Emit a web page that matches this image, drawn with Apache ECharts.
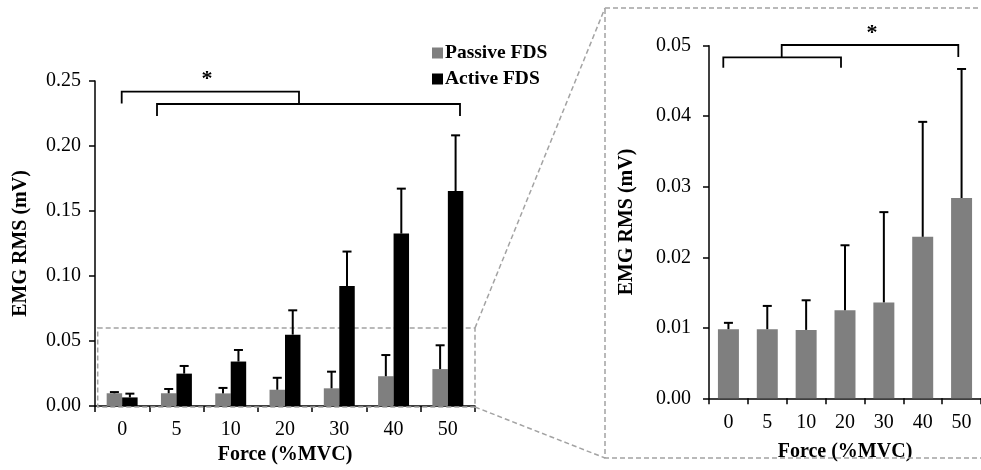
<!DOCTYPE html>
<html>
<head>
<meta charset="utf-8">
<script src="https://cdn.jsdelivr.net/npm/echarts@6/dist/echarts.min.js"></script>
<style>
html,body{margin:0;padding:0;background:#fff;}
#c{width:981px;height:470px;}
</style>
</head>
<body>
<div id="c"></div>
<script>
// ---- data ----
const categories = ['0', '5', '10', '20', '30', '40', '50'];
const passiveMean = [0.0098, 0.0098, 0.0097, 0.0125, 0.0136, 0.0229, 0.0284];
const passiveSD   = [0.0009, 0.0033, 0.0042, 0.0092, 0.0128, 0.0163, 0.0183];
const activeMean  = [0.0066, 0.0249, 0.0342, 0.0549, 0.0923, 0.1326, 0.1654];
const activeSD    = [0.0029, 0.0059, 0.0089, 0.0187, 0.0265, 0.0346, 0.0428];
const leftTicks = [0, 0.05, 0.10, 0.15, 0.20, 0.25];
const rightTicks = [0, 0.01, 0.02, 0.03, 0.04, 0.05];
const seriesNames = ['Passive FDS', 'Active FDS'];
const yTitle = 'EMG RMS (mV)';
const xTitle = 'Force (%MVC)';
const zoomValue = 0.06;

const FONT = 'Liberation Serif';
const GRAY = '#7f7f7f';
const BLACK = '#000000';
const DASH = '#a3a3a3';
const leftGap = 0.43, rightGap = 0.46;

const chart = echarts.init(document.getElementById('c'));

function errData(mean, sd) { return mean.map((m, i) => [i, m, sd[i]]); }

function errRender(gap, side) {
  return function (params, api) {
    const cat = api.value(0), m = api.value(1), s = api.value(2);
    const bandW = api.size([1, 0])[0];
    const nBars = side === 0 ? 1 : 2;
    const barW = bandW * (1 - gap) / nBars;
    const off = side === 0 ? 0 : side * barW / 2;
    const b = api.coord([cat, m]);
    const t = api.coord([cat, m + s]);
    const x = b[0] + off;
    const cap = 4.5;
    const st = { stroke: '#000', lineWidth: 2 };
    return {
      type: 'group',
      children: [
        { type: 'line', shape: { x1: x, y1: b[1], x2: x, y2: t[1] }, style: st },
        { type: 'line', shape: { x1: x - cap, y1: t[1], x2: x + cap, y2: t[1] }, style: st }
      ]
    };
  };
}

function fmt(v) { return v.toFixed(2); }

const axisLineStyle = { show: true, lineStyle: { color: '#000', width: 1.5 } };
const tickStyle = { show: true, length: 6, inside: false, lineStyle: { color: '#000', width: 1.5 } };
const tickFont = { fontFamily: FONT, fontSize: 20, color: '#000' };
const titleFont = { fontFamily: FONT, fontSize: 20, fontWeight: 'bold', color: '#000' };

const option = {
  animation: false,
  backgroundColor: '#fff',
  textStyle: { fontFamily: FONT },
  legend: {
    orient: 'vertical',
    left: 427, top: 38,
    itemWidth: 11, itemHeight: 11, itemGap: 6,
    icon: 'rect',
    data: seriesNames,
    textStyle: { fontFamily: FONT, fontSize: 19.5, fontWeight: 'bold', color: '#000', padding: [0, 0, 0, -3] }
  },
  grid: [
    { left: 95, top: 81, width: 380, height: 325, containLabel: false },
    { left: 709, top: 45.7, width: 272, height: 352.6, containLabel: false }
  ],
  xAxis: [
    {
      gridIndex: 0, type: 'category', data: categories,
      axisLine: axisLineStyle, axisTick: tickStyle,
      axisLabel: Object.assign({ margin: 14 }, tickFont),
      name: xTitle, nameLocation: 'middle', nameGap: 35,
      nameTextStyle: titleFont
    },
    {
      gridIndex: 1, type: 'category', data: categories,
      axisLine: axisLineStyle, axisTick: tickStyle,
      axisLabel: Object.assign({ margin: 14 }, tickFont),
      name: xTitle, nameLocation: 'middle', nameGap: 44,
      nameTextStyle: titleFont
    }
  ],
  yAxis: [
    {
      gridIndex: 0, type: 'value', min: leftTicks[0], max: leftTicks[leftTicks.length - 1],
      interval: leftTicks[1] - leftTicks[0],
      axisLine: axisLineStyle, axisTick: tickStyle, splitLine: { show: false },
      axisLabel: Object.assign({ margin: 14, formatter: fmt }, tickFont),
      name: yTitle, nameLocation: 'middle', nameGap: 64, nameRotate: 90,
      nameTextStyle: titleFont
    },
    {
      gridIndex: 1, type: 'value', min: rightTicks[0], max: rightTicks[rightTicks.length - 1],
      interval: rightTicks[1] - rightTicks[0],
      axisLine: axisLineStyle, axisTick: tickStyle, splitLine: { show: false },
      axisLabel: Object.assign({ margin: 18, formatter: fmt }, tickFont),
      name: yTitle, nameLocation: 'middle', nameGap: 72, nameRotate: 90,
      nameTextStyle: titleFont
    }
  ],
  series: [
    {
      name: seriesNames[0], type: 'bar', xAxisIndex: 0, yAxisIndex: 0,
      data: passiveMean, itemStyle: { color: GRAY },
      barGap: '0%', barCategoryGap: (leftGap * 100) + '%'
    },
    {
      name: seriesNames[1], type: 'bar', xAxisIndex: 0, yAxisIndex: 0,
      data: activeMean, itemStyle: { color: BLACK },
      barGap: '0%', barCategoryGap: (leftGap * 100) + '%'
    },
    {
      name: 'err-passive', type: 'custom', xAxisIndex: 0, yAxisIndex: 0,
      renderItem: errRender(leftGap, -1), data: errData(passiveMean, passiveSD), z: 5
    },
    {
      name: 'err-active', type: 'custom', xAxisIndex: 0, yAxisIndex: 0,
      renderItem: errRender(leftGap, 1), data: errData(activeMean, activeSD), z: 5
    },
    {
      name: 'Passive zoom', type: 'bar', xAxisIndex: 1, yAxisIndex: 1,
      data: passiveMean, itemStyle: { color: GRAY },
      barCategoryGap: (rightGap * 100) + '%'
    },
    {
      name: 'err-passive-zoom', type: 'custom', xAxisIndex: 1, yAxisIndex: 1,
      renderItem: errRender(rightGap, 0), data: errData(passiveMean, passiveSD), z: 5
    }
  ]
};
chart.setOption(option);

// ---- annotations: zoom box, connectors, significance brackets ----
const yTopL = chart.convertToPixel({ yAxisIndex: 0 }, zoomValue);
const yZeroL = chart.convertToPixel({ yAxisIndex: 0 }, 0);
const boxL = { x1: 97.7, y1: yTopL, x2: 475, y2: yZeroL + 1 };
const boxR = { x1: 605, y1: 8, x2: 990, y2: 458 };
const dashStyle = { stroke: DASH, lineWidth: 1.5, lineDash: [5, 3], fill: null };
const bStyle = { stroke: '#000', lineWidth: 1.8, fill: null };

function bracket(x1, x2, yTop, yLeg) {
  return { type: 'polyline', shape: { points: [[x1, yLeg], [x1, yTop], [x2, yTop], [x2, yLeg]] }, style: bStyle, z: 10 };
}
function star(x, y) {
  return { type: 'text', style: { x: x, y: y, text: '*', font: 'bold 22px "Liberation Serif"', fill: '#000', align: 'center', verticalAlign: 'middle' }, z: 10 };
}

chart.setOption({
  graphic: [
    { type: 'rect', shape: { x: boxL.x1, y: boxL.y1, width: boxL.x2 - boxL.x1, height: boxL.y2 - boxL.y1 }, style: dashStyle, z: 1 },
    { type: 'rect', shape: { x: boxR.x1, y: boxR.y1, width: boxR.x2 - boxR.x1, height: boxR.y2 - boxR.y1 }, style: dashStyle, z: 1 },
    { type: 'line', shape: { x1: boxL.x2, y1: boxL.y1, x2: boxR.x1, y2: boxR.y1 }, style: dashStyle, z: 1 },
    { type: 'line', shape: { x1: boxL.x2, y1: boxL.y2, x2: boxR.x1, y2: boxR.y2 }, style: dashStyle, z: 1 },
    bracket(121.7, 299, 91.7, 103.5),
    bracket(157, 460, 104, 116),
    star(207, 79),
    bracket(723.3, 841, 57.3, 67.7),
    bracket(781.7, 958.3, 45, 57),
    star(872, 33)
  ]
});
</script>
</body>
</html>
